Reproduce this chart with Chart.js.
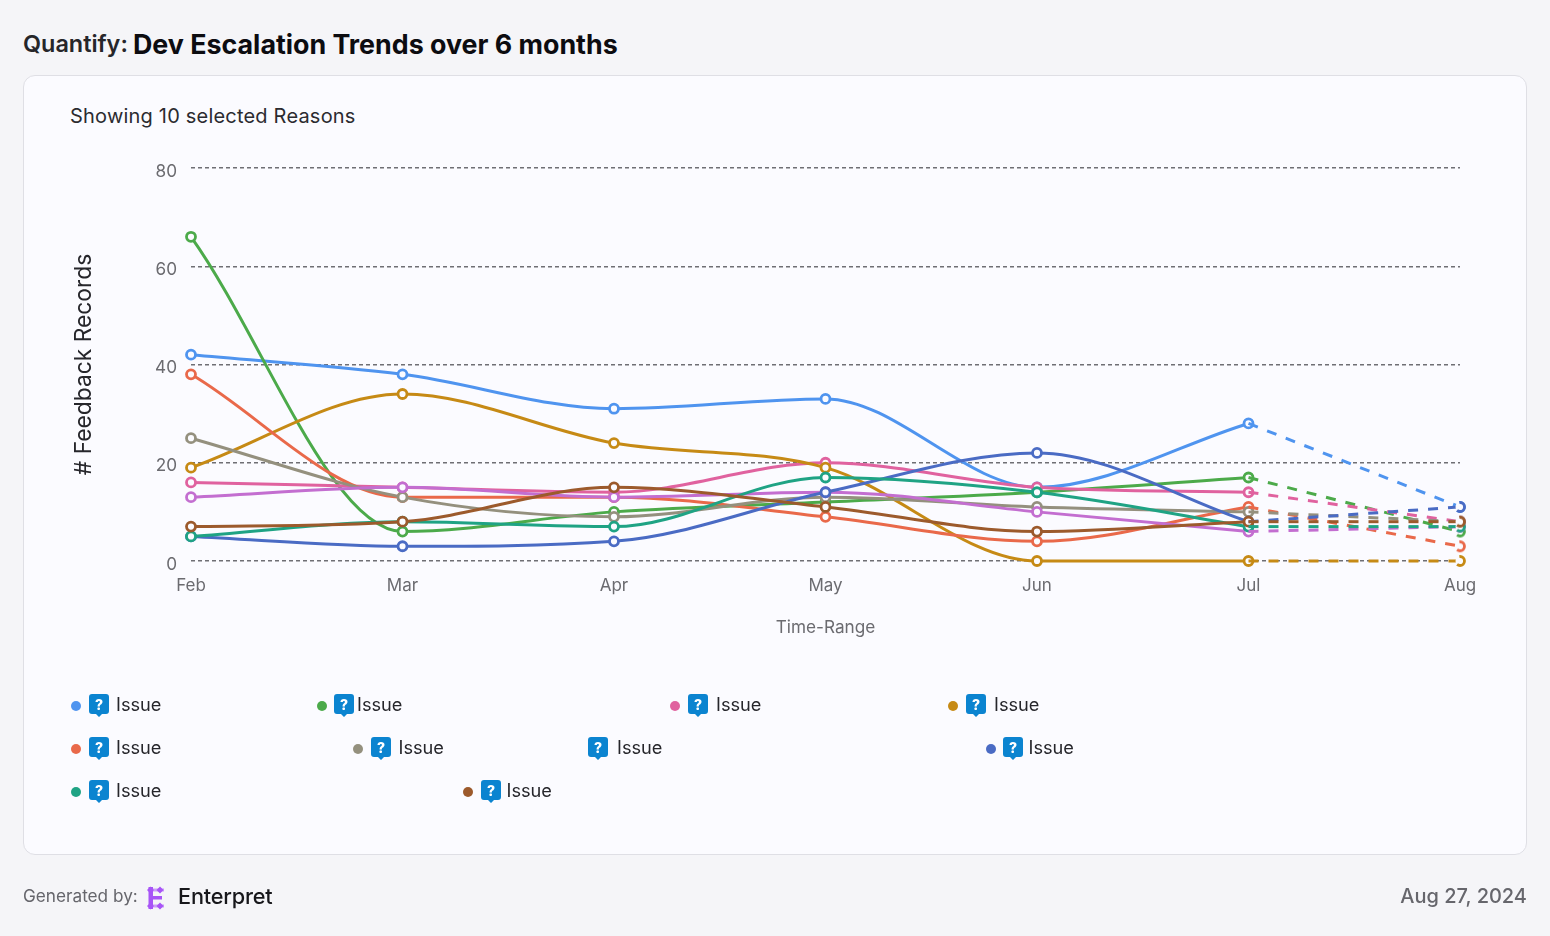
<!DOCTYPE html>
<html><head><meta charset="utf-8">
<script src="https://cdn.jsdelivr.net/npm/chart.js@4"></script>
<style>
html,body{margin:0;padding:0;width:1550px;height:936px;overflow:hidden;background:#f5f5f8;font-family:Inter,sans-serif}
.abs{position:absolute;white-space:nowrap}
#card{left:23px;top:75px;width:1502px;height:778px;background:#fbfbff;border:1px solid #dfdfe5;border-radius:12px}
#chart{position:absolute;left:0;top:0;width:1550px;height:936px}
.lg{position:absolute;height:24px;line-height:24px;font-size:18.2px;color:#26262b}
</style></head><body>
<div class="abs" style="left:23px;top:29px;line-height:30px;color:#26262a;font-weight:600;font-size:23.4px">Quantify:</div>
<div class="abs" style="left:133px;top:27px;line-height:34px;color:#0c0c10;font-weight:700;font-size:26.8px">Dev Escalation Trends over 6 months</div>
<div class="abs" id="card"></div>
<div class="abs" style="left:70px;top:104px;line-height:24px;font-size:20px;letter-spacing:.2px;color:#2b2b30">Showing 10 selected Reasons</div>
<canvas id="chart" width="1550" height="936"></canvas>
<div id="legend"></div>
<div class="abs" style="left:23px;top:885px;line-height:22px;font-size:17.2px;color:#66666c">Generated by:</div>
<svg class="abs" style="left:144px;top:884px" width="24" height="28" viewBox="0 0 24 28">
<g fill="#a855f7"><rect x="4.500" y="3" width="4.500" height="22"/><rect x="6" y="4.500" width="14" height="3" opacity=".55"/><rect x="6" y="12" width="12" height="3.500"/><rect x="6" y="20.500" width="14" height="3" opacity=".55"/>
<path d="M16 2.500l3.500 3.500L16 9.500 12.500 6zM16 18.500l3.500 3.500L16 25.500 12.500 22zM6.500 2.500L10 6 6.500 9.500 3 6zM6.500 18.500L10 22l-3.500 3.500L3 22z"/></g></svg>
<div class="abs" style="left:178px;top:882px;line-height:28px;font-size:21.7px;font-weight:500;color:#17171b;letter-spacing:-.2px">Enterpret</div>
<div class="abs" style="right:23px;top:884px;line-height:24px;font-size:20px;font-weight:500;color:#66666c">Aug 27, 2024</div>
<script>
const months = ["Feb","Mar","Apr","May","Jun","Jul","Aug"];
const seriesNames = ["Issue","Issue","Issue","Issue","Issue","Issue","Issue","Issue","Issue","Issue"];
const yTicks = [0,20,40,60,80];
// observed values Feb..Jul
const blue   = [42,38,31,33,15,28];
const green  = [66,6,10,12,14,17];
const pink   = [16,15,14,20,15,14];
const gold   = [19,34,24,19,0,0];
const orange = [38,13,13,9,4,11];
const gray   = [25,13,9,13,11,10];
const purple = [13,15,13,14,10,6];
const indigo = [5,3,4,14,22,8];
const teal   = [5,8,7,17,14,7];
const brown  = [7,8,15,11,6,8];
// partial month value, Aug
const augValues = [11,6,8,0,3,8,7,11,7,8];
const solid = [blue,green,pink,gold,orange,gray,purple,indigo,teal,brown];
const colors = ["#4f94ef","#4caa4a","#e0629f","#c68a15","#e9694a","#94907e","#c36ed0","#4a6bc4","#1fa384","#9c5a2c"];

const CARD = "#fbfbff";
function dashedDot(color){
  const c=document.createElement("canvas");c.width=c.height=18;
  const x=c.getContext("2d");
  x.fillStyle=CARD;x.beginPath();x.arc(9,9,4.5,0,Math.PI*2);x.fill();
  x.strokeStyle=color;x.lineWidth=2.8;x.setLineDash([10,10]);
  x.beginPath();x.arc(9,9,4.5,0,Math.PI*2);x.stroke();
  return c;
}
const datasets=[];
solid.forEach((vals,i)=>datasets.push({
  label:seriesNames[i],data:vals,borderColor:colors[i],backgroundColor:CARD,
  borderWidth:3,pointRadius:4.5,pointBorderWidth:2.8,pointBackgroundColor:CARD,pointBorderColor:colors[i],
  cubicInterpolationMode:"monotone",clip:false,order:100-i
}));
solid.forEach((vals,i)=>datasets.push({
  label:seriesNames[i],data:[null,null,null,null,null,vals[5],augValues[i]],borderColor:colors[i],
  borderWidth:3,borderDash:[10,10],tension:0,clip:false,order:50-i,
  pointRadius:[0,0,0,0,0,0,4.5],pointStyle:dashedDot(colors[i])
}));
new Chart(document.getElementById("chart"),{
  type:"line",
  data:{labels:months,datasets},
  options:{
    responsive:false,animation:false,events:[],
    layout:{padding:{left:60,right:90,top:168,bottom:295}},
    plugins:{legend:{display:false},tooltip:{enabled:false},title:{display:false}},
    scales:{
      x:{
        offset:false,
        grid:{display:false},border:{display:false},
        ticks:{color:"#6b6b70",font:{family:"Inter",size:17},padding:7,maxRotation:0,autoSkip:false},
        title:{display:true,text:"Time-Range",color:"#6b6b70",font:{family:"Inter",size:17.2},padding:{top:0,bottom:3}},
        afterFit(s){s.height=80;}
      },
      y:{
        min:0,max:80,
        afterBuildTicks(s){s.ticks=yTicks.map(v=>({value:v}));},
        grid:{color:"#6f6f74",lineWidth:1.4,drawTicks:false},
        border:{display:false,dash:[4,3]},
        ticks:{color:"#6b6b70",font:{family:"Inter",size:17.2},padding:14,labelOffset:3.5},
        title:{display:true,text:"# Feedback Records",color:"#26262b",font:{family:"Inter",size:22.8},padding:{top:10.5,bottom:0}},
        afterFit(s){s.width=131;}
      }
    }
  }
});
// legend: one entry per series, in reference order and rows
const legendRows=[[0,76,99,116,true,705],[1,321.5,344,357,true,705],[2,674.5,698,716,true,705],[3,952.5,976,994,true,705],
 [4,76,99,116,true,748],[5,357.5,380.5,398.5,true,748],[6,0,598,617,false,748],[7,990.5,1013,1028.5,true,748],
 [8,76,99,116,true,791],[9,467.5,490.5,506.5,true,791]];
const lg=document.getElementById("legend");
legendRows.forEach(([i,dx,ix,tx,hasDot,y])=>{
  let h="";
  if(hasDot)h+=`<div style="position:absolute;left:${dx-5}px;top:${y-4.5}px;width:10px;height:10px;border-radius:50%;background:${colors[i]}"></div>`;
  h+=`<svg style="position:absolute;left:${ix-10}px;top:${y-11}px" width="20" height="24" viewBox="0 0 20 24"><path d="M3 0h14a3 3 0 0 1 3 3v14a3 3 0 0 1-3 3h-4l-3 3-3-3H3a3 3 0 0 1-3-3V3a3 3 0 0 1 3-3z" fill="#0b84d0"/><text x="10" y="15.500" text-anchor="middle" font-family="Inter" font-weight="800" font-size="14" fill="#fff">?</text></svg>`;
  h+=`<div class="lg" style="left:${tx}px;top:${y-13}px">${seriesNames[i]}</div>`;
  lg.insertAdjacentHTML("beforeend",h);
});
</script>
</body></html>
